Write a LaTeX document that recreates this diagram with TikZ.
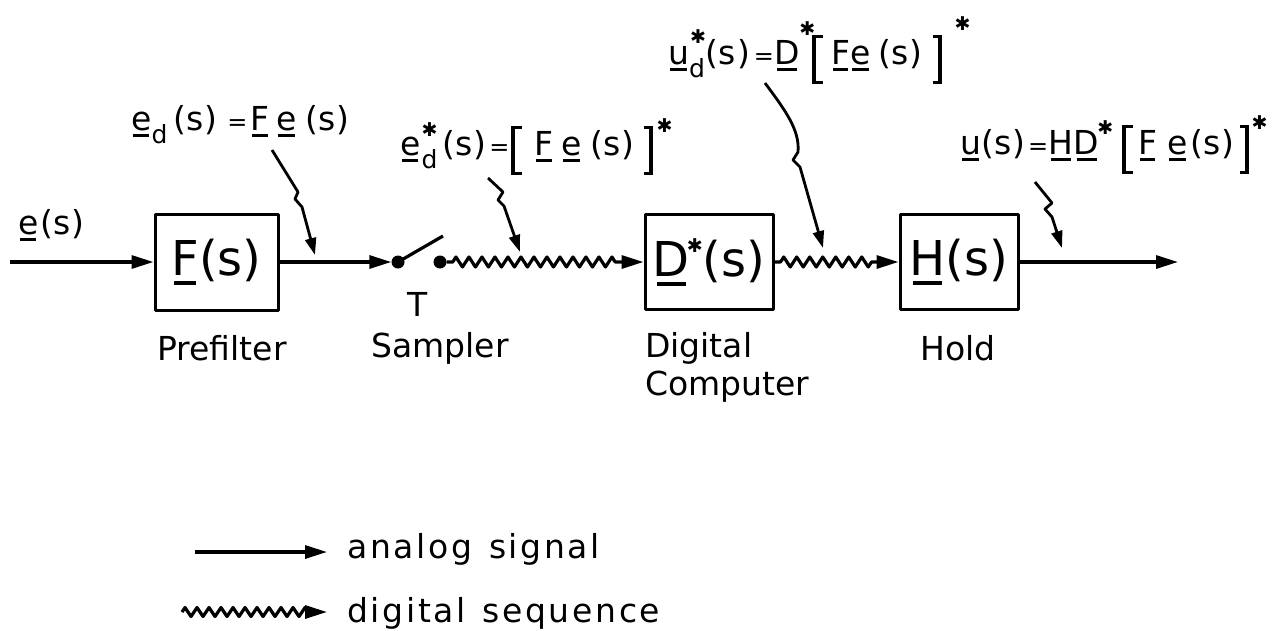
\documentclass[tikz,border=0pt]{standalone}
\usepackage{fontspec}
\setmainfont{DejaVu Sans}
\usetikzlibrary{arrows.meta,decorations.pathmorphing}

\newcommand\myu[1]{\setbox0\hbox{#1}\leavevmode\rlap{\hbox to\wd0{\hss\rule[-0.2em]{0.8\wd0}{0.085em}\hss}}\box0}
\newcommand\starfont{\fontsize{19}{19}\selectfont}
\newcommand\mystar[1]{\raisebox{#1}{\starfont\symbol{"2731}}}
\newcommand\mysub[1]{\raisebox{-13pt}{\fontsize{25}{25}\selectfont #1}}
\newcommand\mysupsub[2]{\rlap{\kern#1\mystar{#2}}\mysub{d}}
\newcommand\pS{(s\kern1pt)}
\newcommand\myeq{{\fontsize{24}{24}\selectfont =}}
\newcommand\mylbr{\kern1pt\rlap{\rule[-20pt]{11pt}{3.2pt}}\rlap{\rule[26pt]{11pt}{3.2pt}}\rule[-20pt]{3.2pt}{49pt}\kern9.8pt}
\newcommand\myrbr{\kern5.8pt\rule[-20pt]{3.2pt}{49pt}\llap{\rule[-20pt]{9pt}{3.2pt}}\llap{\rule[26pt]{9pt}{3.2pt}}\kern1pt}
\newcommand\labfont{\fontsize{33}{36}\selectfont}
\newcommand\boxfont{\fontsize{48}{52}\selectfont}
\newcommand\capfont{\fontsize{33}{38}\selectfont}

\begin{document}
\begin{tikzpicture}[x=1pt,y=-1pt,line join=round,
  block/.style={draw, line width=3pt, inner sep=0pt, font=\boxfont},
  sig/.style={line width=3.2pt, -{Triangle[length=22pt,width=13pt]}},
  dig/.style={sig, decorate, decoration={zigzag, amplitude=5pt, segment length=13pt, pre length=6pt, post length=26pt}},
  callout/.style={line width=2.8pt, -{Triangle[length=17pt,width=11pt]}},
  dot/.style={circle, fill, inner sep=0pt, minimum size=13pt},
  lab/.style={font=\labfont, inner sep=0pt},
  blabel/.style={font=\capfont, inner sep=0pt},
  legend/.style={font=\capfont\addfontfeatures{LetterSpace=8}, inner sep=0pt}]
\useasboundingbox (0,0) rectangle (1283,630);

% blocks
\node[block, minimum width=123pt, minimum height=96pt] (F) at (216.5,262) {\myu{F}(s)};
\node[block, minimum width=128pt, minimum height=95pt] (D) at (709,262) {\myu{D}\kern-3pt\mystar{24pt}(s)};
\node[block, minimum width=118pt, minimum height=95pt] (H) at (959,262) {\myu{H}(s)};

% sampler
\node[dot] (s1) at (398,262) {};
\node[dot] (s2) at (440,262) {};
\coordinate (arm) at (443,236);
\node[blabel] (T) at (418,304) {T};

% signal lines
\coordinate (in) at (10,262);
\coordinate (out) at (1178,262);
\draw[sig] (in) -- (F.west);
\draw[sig] (F.east) -- (s1);
\draw[line width=3.2pt] (s1.center) -- (arm);
\draw[dig] (s2) -- (D.west);
\draw[dig] (D.east) -- (H.west);
\draw[sig] (H.east) -- (out);

% block captions
\node[blabel] (capF) at (222,348) {Prefilter};
\node[blabel] (capS) at (440,348) {Sampler};
\node[blabel, anchor=base west] (capD1) at (645,357) {Digital};
\node[blabel, anchor=base west] (capD2) at (645,395) {Computer};
\node[blabel] (capH) at (958,348) {Hold};

% signal labels
\node[lab, anchor=base west] (le) at (18,234) {\myu{e}\kern2pt\pS};
\node[lab, anchor=base west] (l1) at (131,130) {\myu{e}\mysub{d}\kern6pt\pS\kern10pt\myeq\kern3pt\myu{F}\kern7pt\myu{e}\kern9pt\pS};
\node[lab, anchor=base west] (l2) at (400,155) {\myu{e}\kern1pt\mysupsub{0pt}{19pt}\kern5pt\pS\kern3pt\myeq\kern1pt\mylbr\kern10pt\myu{F}\kern8pt\myu{e}\kern9pt\pS\kern9pt\myrbr\kern3pt\mystar{23pt}};
\node[lab, anchor=base west] (l3) at (668,64) {\myu{u}\mysupsub{1pt}{21pt}\kern1pt\pS\kern4pt\myeq\myu{D}\mystar{29pt}\kern-4pt\mylbr\kern6pt\myu{F}\myu{e}\kern8pt\pS\kern10pt\myrbr\kern12pt\mystar{34pt}};
\node[lab, anchor=base west] (l4) at (960,154) {\myu{u}\pS\kern3pt\myeq\myu{H}\kern1pt\myu{D}\kern-2pt\mystar{20pt}\kern8pt\mylbr\kern3pt\myu{F}\kern10pt\myu{e}\kern3pt\pS\kern5pt\myrbr\kern2pt\mystar{25pt}};

% callouts
\coordinate (c1a) at (272,150); \coordinate (c1t) at (315,255);
\draw[callout] (c1a) -- (298,192) -- (295,199) -- (302,207) -- (c1t);
\coordinate (c2a) at (488,178); \coordinate (c2t) at (520,252);
\draw[callout] (c2a) -- (503,192) -- (498,200) -- (504,206) -- (c2t);
\coordinate (c3a) at (765,83); \coordinate (c3t) at (823,248);
\draw[callout] (c3a) .. controls (785,110) and (800,130) .. (798,152) -- (793,160) -- (800,167) -- (c3t);
\coordinate (c4a) at (1035,182); \coordinate (c4t) at (1062,248);
\draw[callout] (c4a) -- (1052,203) -- (1045,209) -- (1052,217) -- (c4t);

% legend
\coordinate (la1) at (195,552); \coordinate (la2) at (327,552);
\draw[sig] (la1) -- (la2);
\node[legend, anchor=base west] (lga) at (347,558) {analog\hspace{17pt}signal};
\coordinate (ld1) at (182,612); \coordinate (ld2) at (327,612);
\draw[sig, decorate, decoration={zigzag, amplitude=4.5pt, segment length=12pt, pre length=0pt, post length=18pt}] (ld1) -- (ld2);
\node[legend, anchor=base west] (lgd) at (347,622) {digital\hspace{17pt}sequence};
\end{tikzpicture}
\end{document}
